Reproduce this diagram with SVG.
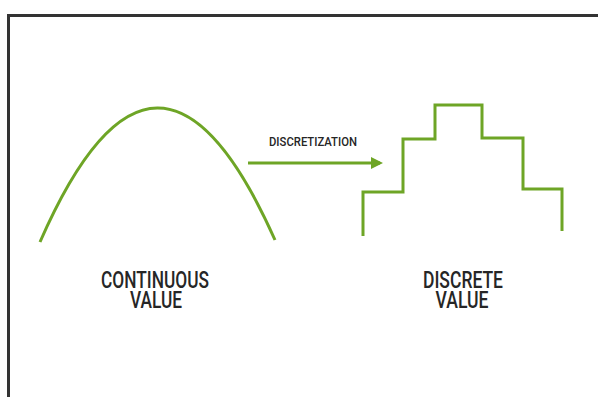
<svg xmlns="http://www.w3.org/2000/svg" width="598" height="397" viewBox="0 0 598 397">
<defs>
<style>
.g{fill:none;stroke:#6ea526;stroke-width:3;stroke-linejoin:miter;stroke-linecap:butt}
.lbl{font-family:Roboto,"Liberation Sans",sans-serif;font-weight:500;fill:#262626;text-anchor:middle}
.big{font-size:23px}
.sm{font-size:12px}
</style>
<marker id="ah" markerWidth="4" markerHeight="4" refX="3" refY="2" orient="auto" markerUnits="strokeWidth">
<path d="M0,0 L4,2 L0,4 Z" fill="#6ea526"/>
</marker>
</defs>
<rect width="598" height="397" fill="#fff"/>
<g id="frame">
<path d="M8.5,397 V15.5 H598" fill="none" stroke="#333" stroke-width="3"/>
</g>
<g id="continuous">
<path class="g" d="M40,242 Q157,-25 275,240"/>
<text class="lbl big" x="155" y="288" textLength="108" lengthAdjust="spacingAndGlyphs">CONTINUOUS</text>
<text class="lbl big" x="156" y="308" textLength="52" lengthAdjust="spacingAndGlyphs">VALUE</text>
</g>
<g id="discrete">
<path class="g" d="M363,236 V192 H403 V139 H435 V105 H482 V138 H523 V189 H562 V231"/>
<text class="lbl big" x="463" y="288" textLength="80" lengthAdjust="spacingAndGlyphs">DISCRETE</text>
<text class="lbl big" x="462" y="308" textLength="53" lengthAdjust="spacingAndGlyphs">VALUE</text>
</g>
<g id="connectors">
<line class="g" x1="248" y1="163" x2="380" y2="163" marker-end="url(#ah)"/>
<text class="lbl sm" x="313" y="146" textLength="88" lengthAdjust="spacingAndGlyphs">DISCRETIZATION</text>
</g>
</svg>
